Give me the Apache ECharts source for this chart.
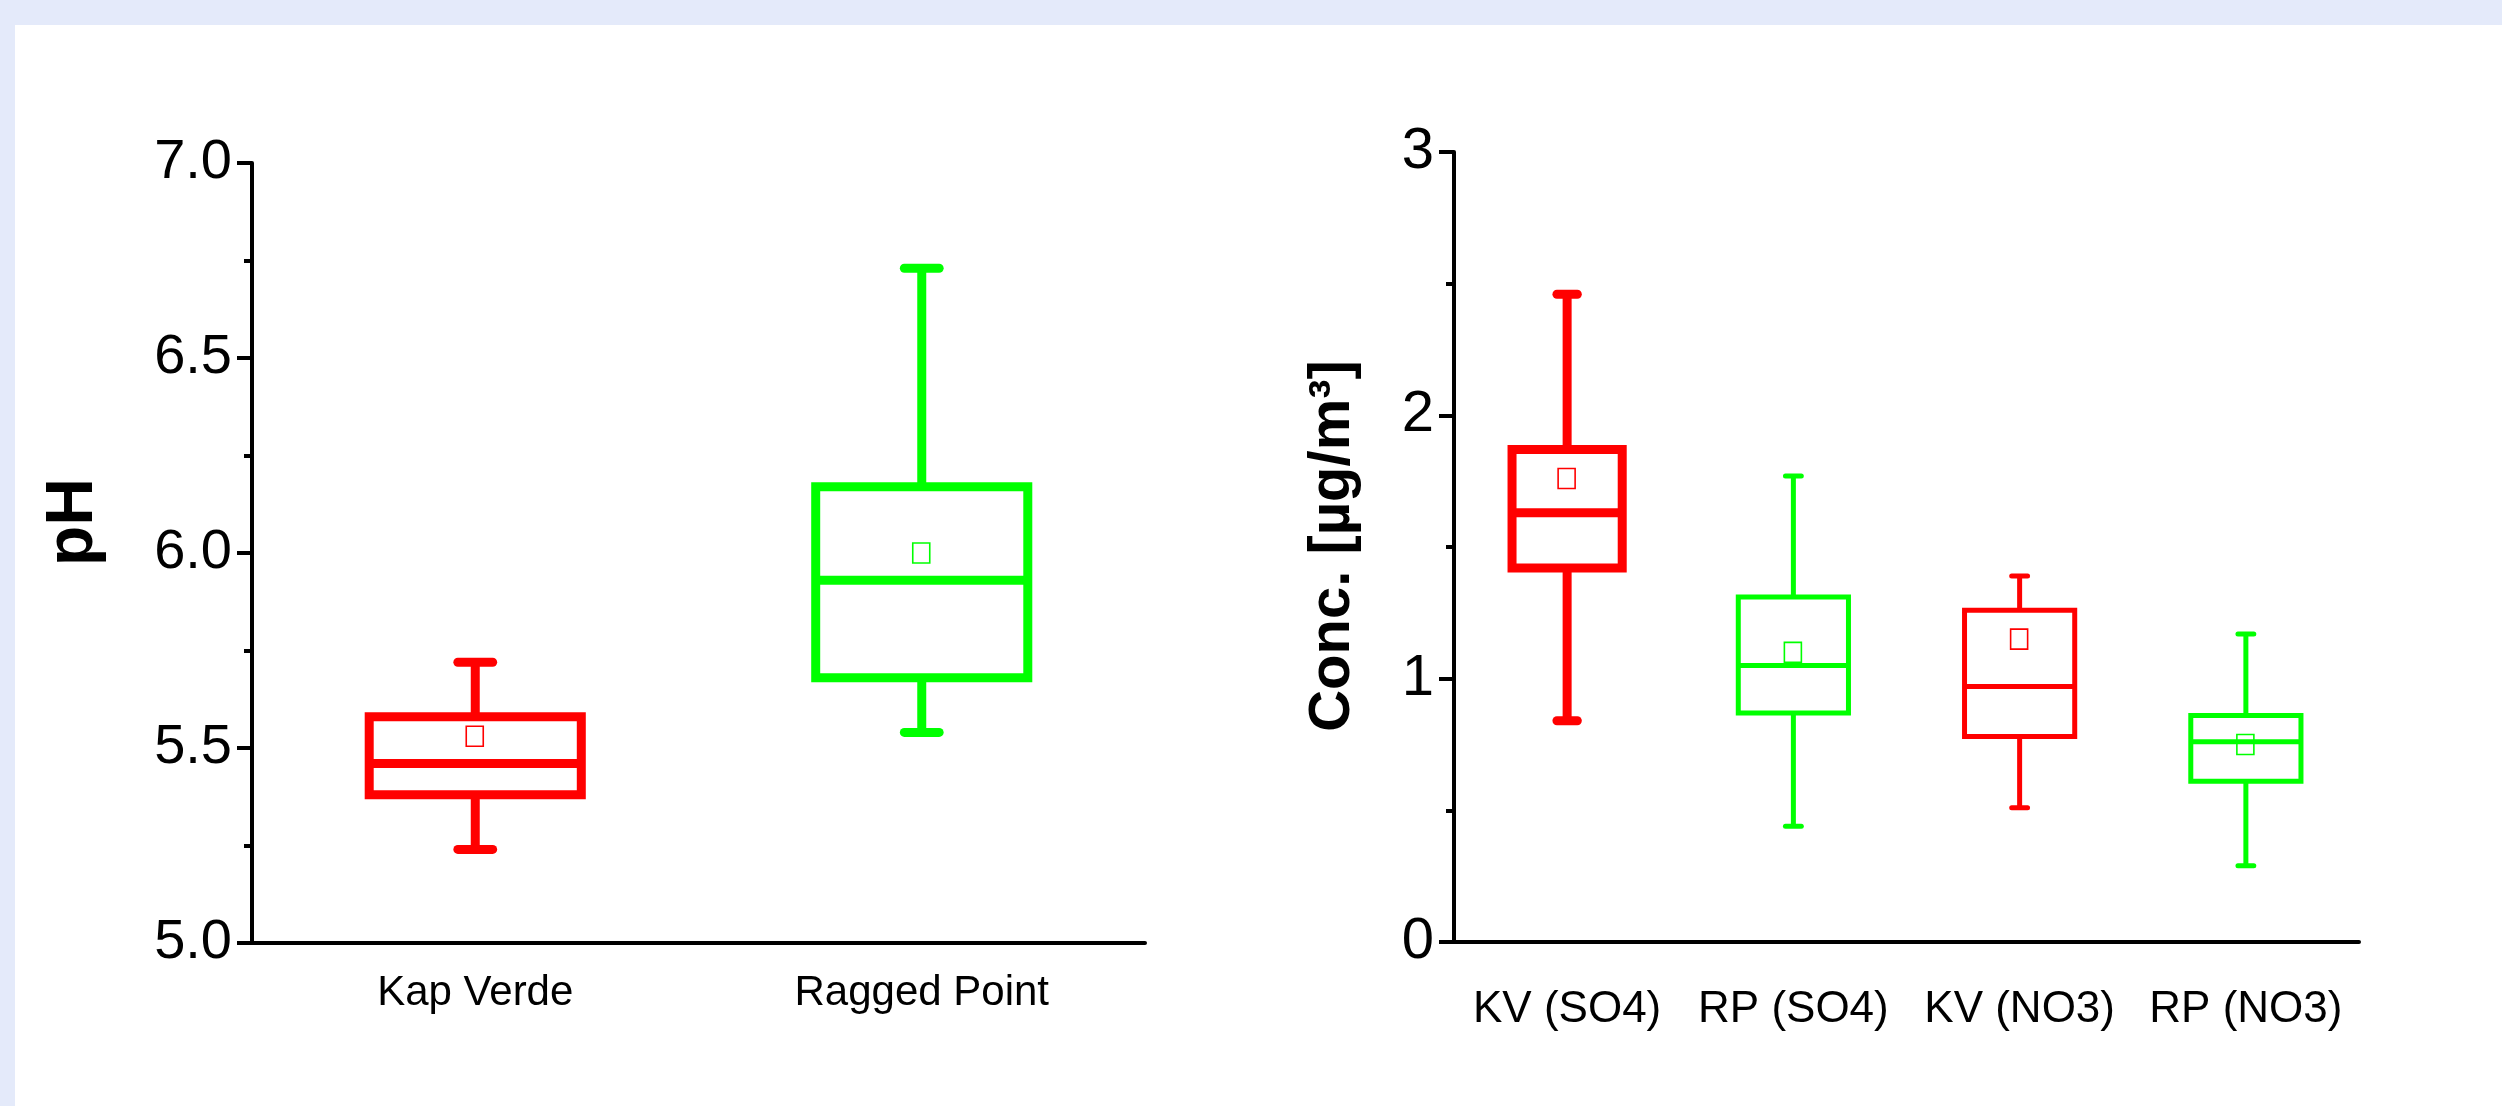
<!DOCTYPE html>
<html>
<head>
<meta charset="utf-8">
<script src="https://cdn.jsdelivr.net/npm/echarts@6/dist/echarts.min.js"></script>
<style>
html,body{margin:0;padding:0;background:#E4EAFA;}
#chart{width:2502px;height:1106px;}
</style>
</head>
<body>
<div id="chart"></div>
<script>
// ---- Data ----
const phCategories = ['Kap Verde', 'Ragged Point'];
const phMin    = [5.24, 5.54];
const phQ1     = [5.38, 5.68];
const phMedian = [5.46, 5.93];
const phQ3     = [5.58, 6.17];
const phMax    = [5.72, 6.73];
const phMean   = [5.53, 6.00];
const phTicks  = [5.0, 5.5, 6.0, 6.5, 7.0];

const concCategories = ['KV (SO4)', 'RP (SO4)', 'KV (NO3)', 'RP (NO3)'];
const concMin    = [0.84, 0.44, 0.51, 0.29];
const concQ1     = [1.42, 0.87, 0.78, 0.61];
const concMedian = [1.63, 1.05, 0.97, 0.76];
const concQ3     = [1.87, 1.31, 1.26, 0.86];
const concMax    = [2.46, 1.77, 1.39, 1.17];
const concMean   = [1.76, 1.10, 1.15, 0.75];
const concTicks  = [0, 1, 2, 3];

// ---- Styles ----
const phColors = ['#ff0000', '#00ff00'];
const phLineWidths = [9, 9];
const concColors = ['#ff0000', '#00ff00', '#ff0000', '#00ff00'];
const concLineWidths = [9, 5, 5, 5];
const FONT = '"Liberation Sans", Arial, sans-serif';

function buildData(mins, q1s, meds, q3s, maxs, means) {
  return mins.map((m, i) => [i, m, q1s[i], meds[i], q3s[i], maxs[i], means[i]]);
}

function makeRender(boxRatio, capRatios, lineWidths, colors) {
  return function (params, api) {
    const idx = api.value(0);
    const lo = api.coord([idx, api.value(1)]);
    const q1 = api.coord([idx, api.value(2)]);
    const med = api.coord([idx, api.value(3)]);
    const q3 = api.coord([idx, api.value(4)]);
    const hi = api.coord([idx, api.value(5)]);
    const mean = api.coord([idx, api.value(6)]);
    const band = api.size([1, 0])[0];
    const half = band * boxRatio / 2;
    const capHalf = band * capRatios[idx] / 2;
    const x = lo[0];
    const color = colors[idx];
    const lw = lineWidths[idx];
    const ls = { stroke: color, lineWidth: lw, fill: null };
    const cs = { stroke: color, lineWidth: lw, fill: null, lineCap: 'round' };
    return {
      type: 'group',
      children: [
        { type: 'line', shape: { x1: x, y1: hi[1], x2: x, y2: q3[1] }, style: ls },
        { type: 'line', shape: { x1: x, y1: q1[1], x2: x, y2: lo[1] }, style: ls },
        { type: 'line', shape: { x1: x - capHalf, y1: hi[1], x2: x + capHalf, y2: hi[1] }, style: cs },
        { type: 'line', shape: { x1: x - capHalf, y1: lo[1], x2: x + capHalf, y2: lo[1] }, style: cs },
        { type: 'rect', shape: { x: x - half, y: q3[1], width: 2 * half, height: q1[1] - q3[1] }, style: ls },
        { type: 'line', shape: { x1: x - half, y1: med[1], x2: x + half, y2: med[1] }, style: ls },
        { type: 'rect', shape: { x: mean[0] - 9, y: mean[1] - 10, width: 17, height: 20 },
          style: { stroke: color, lineWidth: 1.6, fill: null } }
      ]
    };
  };
}

const axisLineStyle = { color: '#000', width: 4 };

const chart = echarts.init(document.getElementById('chart'), null, { renderer: 'canvas' });
chart.setOption({
  backgroundColor: '#E4EAFA',
  animation: false,
  graphic: [{
    type: 'rect', z: -100, silent: true,
    shape: { x: 15, y: 25, width: 2487, height: 1081 },
    style: { fill: '#ffffff' }
  }],
  grid: [
    { left: 252, top: 163, width: 893, height: 780 },
    { left: 1454, top: 152, width: 905, height: 790 }
  ],
  xAxis: [
    {
      gridIndex: 0, type: 'category', data: phCategories, boundaryGap: true,
      axisLine: { lineStyle: axisLineStyle },
      axisTick: { alignWithLabel: true, length: 14, lineStyle: { color: '#000', width: 4 } },
      axisLabel: { color: '#000', fontFamily: FONT, fontSize: 42, margin: 29, interval: 0 },
      splitLine: { show: false }
    },
    {
      gridIndex: 1, type: 'category', data: concCategories, boundaryGap: true,
      axisLine: { lineStyle: axisLineStyle },
      axisTick: { alignWithLabel: true, length: 14, lineStyle: { color: '#000', width: 4 } },
      axisLabel: { color: '#000', fontFamily: FONT, fontSize: 44, margin: 46, interval: 0 },
      splitLine: { show: false }
    }
  ],
  yAxis: [
    {
      gridIndex: 0, type: 'value', min: phTicks[0], max: phTicks[phTicks.length - 1], interval: 0.5,
      name: 'pH', nameLocation: 'middle', nameRotate: 90, nameGap: 145,
      nameTextStyle: { fontFamily: FONT, fontWeight: 'bold', fontSize: 66, color: '#000', padding: [0, 0, 0, 62] },
      axisLine: { show: true, onZero: false, lineStyle: axisLineStyle },
      axisTick: { show: true, length: 15, lineStyle: { color: '#000', width: 4 } },
      minorTick: { show: true, splitNumber: 2, length: 8, lineStyle: { color: '#000', width: 4 } },
      axisLabel: { color: '#000', fontFamily: FONT, fontSize: 56, margin: 20,
        formatter: v => v.toFixed(1) },
      splitLine: { show: false }
    },
    {
      gridIndex: 1, type: 'value', min: concTicks[0], max: concTicks[concTicks.length - 1], interval: 1,
      name: 'Conc. [µg/m³]', nameLocation: 'middle', nameRotate: 90, nameGap: 92,
      nameTextStyle: { fontFamily: FONT, fontWeight: 'bold', fontSize: 58, color: '#000', padding: [0, 0, 0, 2] },
      axisLine: { show: true, onZero: false, lineStyle: axisLineStyle },
      axisTick: { show: true, length: 15, lineStyle: { color: '#000', width: 4 } },
      minorTick: { show: true, splitNumber: 2, length: 8, lineStyle: { color: '#000', width: 4 } },
      axisLabel: { color: '#000', fontFamily: FONT, fontSize: 58, margin: 20 },
      splitLine: { show: false }
    }
  ],
  series: [
    {
      type: 'custom', xAxisIndex: 0, yAxisIndex: 0,
      renderItem: makeRender(0.475, [0.078, 0.078], phLineWidths, phColors),
      encode: { x: 0, y: [1, 2, 3, 4, 5, 6] },
      data: buildData(phMin, phQ1, phMedian, phQ3, phMax, phMean)
    },
    {
      type: 'custom', xAxisIndex: 1, yAxisIndex: 1,
      renderItem: makeRender(0.487, [0.09, 0.07, 0.07, 0.07], concLineWidths, concColors),
      encode: { x: 0, y: [1, 2, 3, 4, 5, 6] },
      data: buildData(concMin, concQ1, concMedian, concQ3, concMax, concMean)
    }
  ]
});
</script>
</body>
</html>
